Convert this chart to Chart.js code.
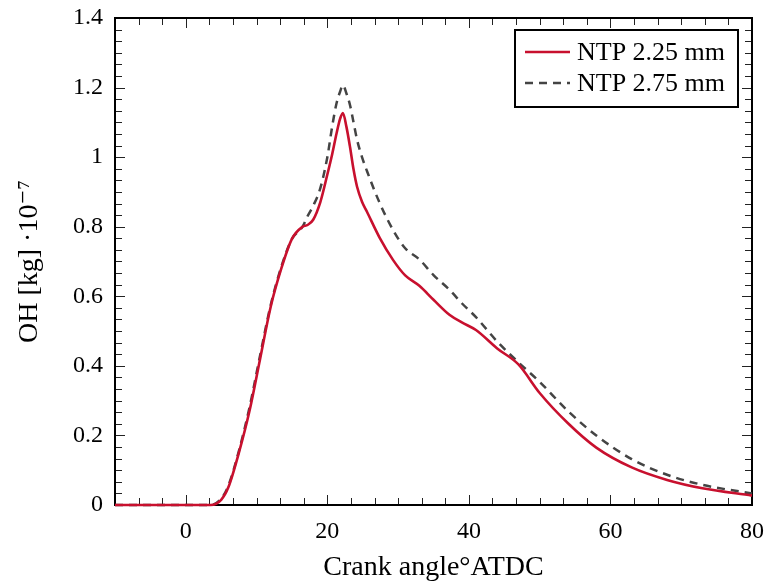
<!DOCTYPE html>
<html>
<head>
<meta charset="utf-8">
<script src="https://cdn.jsdelivr.net/npm/chart.js@4.4.1/dist/chart.umd.min.js"></script>
<style>
  html, body { margin: 0; padding: 0; background: #fff; }
  #wrap { width: 767px; height: 586px; }
</style>
</head>
<body>
<div id="wrap"><canvas id="ohChart" width="767" height="586"></canvas></div>
<script>
// crank angle (deg ATDC) sample points
const crankAngles = [-10, 0, 3.5, 5, 6, 7.5, 9, 10.5, 12, 13.5, 15, 16.5, 17.2, 18, 19, 20, 20.7, 21.3, 21.8, 22.2, 22.7, 23.2, 23.7, 24.2, 24.9, 25.6, 27.4, 29.3, 31, 33, 35, 37.3, 39, 41, 44, 47, 50, 54, 58, 63, 68, 73, 80];
// OH mass * 1e7 [kg]
const ntp225 = [0, 0, 0, 0.015, 0.05, 0.15, 0.27, 0.42, 0.57, 0.68, 0.765, 0.80, 0.805, 0.82, 0.87, 0.95, 1.01, 1.068, 1.11, 1.127, 1.087, 1.03, 0.965, 0.915, 0.872, 0.843, 0.768, 0.704, 0.66, 0.63, 0.59, 0.546, 0.525, 0.503, 0.45, 0.404, 0.322, 0.235, 0.165, 0.108, 0.072, 0.048, 0.027];
const ntp275 = [0, 0, 0, 0.018, 0.055, 0.155, 0.28, 0.43, 0.575, 0.685, 0.765, 0.80, 0.83, 0.86, 0.91, 1.0, 1.09, 1.155, 1.188, 1.207, 1.183, 1.15, 1.10, 1.05, 1.0, 0.96, 0.868, 0.79, 0.738, 0.706, 0.661, 0.618, 0.58, 0.54, 0.47, 0.41, 0.354, 0.27, 0.20, 0.132, 0.087, 0.058, 0.033];
const seriesLabels = ['NTP 2.25 mm', 'NTP 2.75 mm'];
const xTickValues = [0, 20, 40, 60, 80];
const yTickValues = [0, 0.2, 0.4, 0.6, 0.8, 1, 1.2, 1.4];

const serif = "'Liberation Serif', 'DejaVu Serif', serif";

function toPoints(ys) {
    return crankAngles.map((x, i) => ({ x: x, y: ys[i] }));
}

// pgfplots-like frame with inward ticks on all four sides
const framePlugin = {
    id: 'frame',
    beforeDatasetsDraw(chart) {
        const { ctx, chartArea: a, scales } = chart;
        const xs = scales.x, ys = scales.y;
        ctx.save();
        ctx.strokeStyle = '#222';
        ctx.lineWidth = 1;
        // x ticks
        for (let k = -3; k <= 24; k++) {
            const v = k * 20 / 6;
            const px = Math.round(xs.getPixelForValue(v)) + 0.5;
            const len = (k % 6 === 0) ? 10 : 7;
            ctx.beginPath();
            ctx.moveTo(px, a.bottom); ctx.lineTo(px, a.bottom - len);
            ctx.moveTo(px, a.top); ctx.lineTo(px, a.top + len);
            ctx.stroke();
        }
        // y ticks
        for (let k = 0; k <= 42; k++) {
            const v = k * 0.2 / 6;
            const py = Math.round(ys.getPixelForValue(v)) + 0.5;
            const len = (k % 6 === 0) ? 10 : 7;
            ctx.beginPath();
            ctx.moveTo(a.left, py); ctx.lineTo(a.left + len, py);
            ctx.moveTo(a.right, py); ctx.lineTo(a.right - len, py);
            ctx.stroke();
        }
        ctx.strokeStyle = '#000';
        ctx.lineWidth = 2;
        ctx.strokeRect(a.left, a.top, a.right - a.left, a.bottom - a.top);
        ctx.restore();
    },
    afterDraw(chart) {
        // legend box in the upper right corner of the plot
        const { ctx, chartArea: a } = chart;
        const boxW = 223, boxH = 77;
        const bx = a.right - 14 - boxW, by = a.top + 12;
        ctx.save();
        ctx.fillStyle = '#fff';
        ctx.fillRect(bx, by, boxW, boxH);
        ctx.strokeStyle = '#000';
        ctx.lineWidth = 2;
        ctx.strokeRect(bx, by, boxW, boxH);
        ctx.font = '26px ' + serif;
        ctx.textBaseline = 'middle';
        chart.data.datasets.forEach((ds, i) => {
            const cy = by + 22 + i * 31;
            ctx.beginPath();
            ctx.strokeStyle = ds.borderColor;
            ctx.lineWidth = ds.borderWidth;
            ctx.setLineDash(ds.borderDash || []);
            ctx.moveTo(bx + 10, cy); ctx.lineTo(bx + 55, cy);
            ctx.stroke();
            ctx.setLineDash([]);
            ctx.fillStyle = '#000';
            ctx.fillText(ds.label, bx + 62, cy + 1);
        });
        ctx.restore();
    }
};

const ctx = document.getElementById('ohChart').getContext('2d');
new Chart(ctx, {
    type: 'line',
    data: {
        datasets: [{
            label: seriesLabels[0],
            data: toPoints(ntp225),
            borderColor: 'rgb(200, 16, 46)',
            borderWidth: 2.6,
            pointRadius: 0,
            cubicInterpolationMode: 'monotone',
            fill: false,
            clip: 4
        }, {
            label: seriesLabels[1],
            data: toPoints(ntp275),
            borderColor: '#444444',
            borderWidth: 2.5,
            borderDash: [8, 6],
            pointRadius: 0,
            cubicInterpolationMode: 'monotone',
            fill: false,
            clip: 4
        }]
    },
    options: {
        responsive: false,
        animation: false,
        layout: { padding: { top: 18, right: 15, left: 0, bottom: 0 } },
        plugins: {
            legend: { display: false },
            tooltip: { enabled: false }
        },
        scales: {
            x: {
                type: 'linear',
                min: -10,
                max: 80,
                afterBuildTicks: s => { s.ticks = xTickValues.map(v => ({ value: v })); },
                afterFit: s => { s.height = 81; s.paddingLeft = 0; s.paddingRight = 0; },
                grid: { display: false, drawTicks: false },
                border: { display: false },
                ticks: {
                    padding: 12,
                    color: '#000',
                    font: { family: serif, size: 24 },
                    callback: v => String(v)
                },
                title: {
                    display: true,
                    text: 'Crank angle°ATDC',
                    color: '#000',
                    font: { family: serif, size: 28 },
                    padding: { top: 4, bottom: 2 }
                }
            },
            y: {
                type: 'linear',
                min: 0,
                max: 1.4,
                afterBuildTicks: s => { s.ticks = yTickValues.map(v => ({ value: v })); },
                afterFit: s => { s.width = 115; s.paddingTop = 0; s.paddingBottom = 0; },
                grid: { display: false, drawTicks: false },
                border: { display: false },
                ticks: {
                    padding: 12,
                    color: '#000',
                    font: { family: serif, size: 24 },
                    callback: v => String(v)
                },
                title: {
                    display: true,
                    text: 'OH [kg] ·10⁻⁷',
                    color: '#000',
                    font: { family: serif, size: 28 },
                    padding: { top: 13, bottom: 0 }
                }
            }
        }
    },
    plugins: [framePlugin]
});
</script>
</body>
</html>
